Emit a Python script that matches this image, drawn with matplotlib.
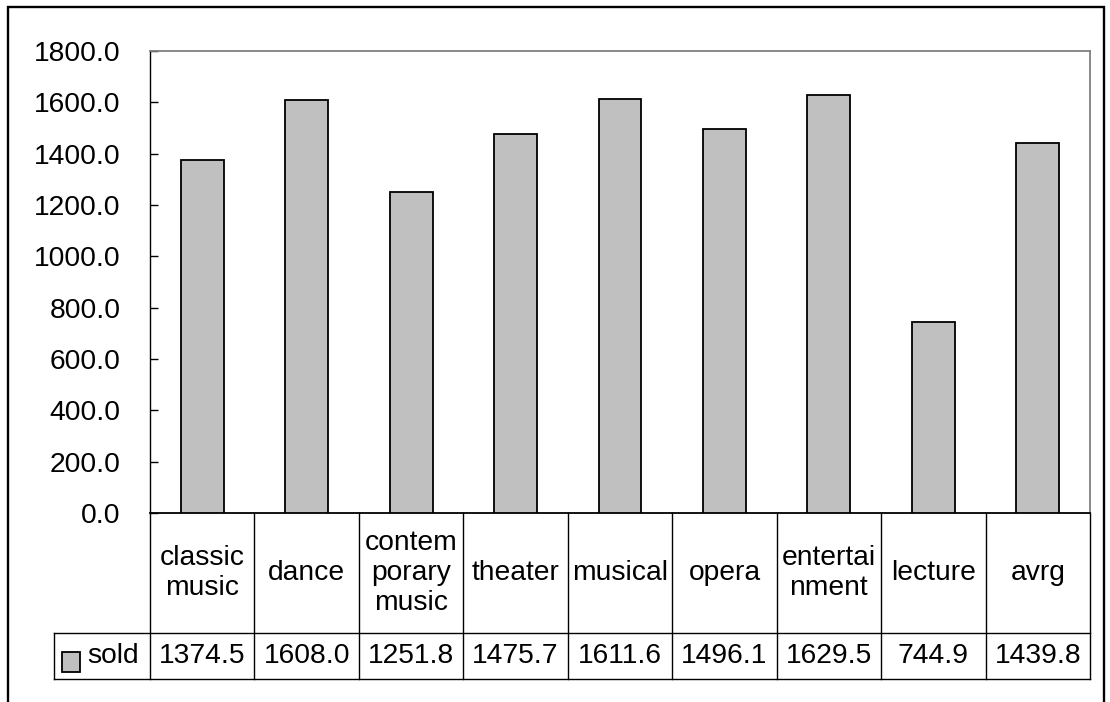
import matplotlib.pyplot as plt
from matplotlib.patches import Rectangle
from matplotlib.lines import Line2D
import matplotlib.transforms as mtransforms

plt.rcParams['font.family'] = ['Liberation Sans', 'DejaVu Sans']

# data
categories = ['classic\nmusic', 'dance', 'contem\nporary\nmusic', 'theater', 'musical',
              'opera', 'entertai\nnment', 'lecture', 'avrg']
sold = [1374.5, 1608.0, 1251.8, 1475.7, 1611.6, 1496.1, 1629.5, 744.9, 1439.8]
series_name = 'sold'
yticks = [0, 200, 400, 600, 800, 1000, 1200, 1400, 1600, 1800]

W, H = 1110, 702
fig = plt.figure(figsize=(W / 100, H / 100), dpi=100)
fs = 20.3

# outer chart frame (bottom edge lies outside the image)
fig.patches.append(Rectangle((8 / W, -0.05), (1104 - 8) / W, 1.05 - 7 / H,
                             transform=fig.transFigure, fill=False,
                             edgecolor='black', linewidth=1.7))

ax = fig.add_axes([150 / W, 1 - 513 / H, (1090 - 150) / W, (513 - 51) / H])
x = list(range(len(categories)))
ax.bar(x, sold, width=0.41, color='#C0C0C0', edgecolor='black', linewidth=1.3, zorder=3)

ax.set_xlim(-0.5, len(categories) - 0.5)
ax.set_ylim(0, 1800)
ax.set_yticks(yticks)
ax.set_yticklabels([f'{v:.1f}' for v in yticks], fontsize=fs)
ax.tick_params(axis='y', direction='in', length=6, width=1, pad=21)
ax.set_xticks([])
for s in ['top', 'right']:
    ax.spines[s].set_color('#808080')
    ax.spines[s].set_linewidth(1.3)
ax.spines['left'].set_linewidth(1)
ax.spines['bottom'].set_linewidth(1.3)

# data table under the axis
tr = mtransforms.blended_transform_factory(ax.transData, ax.transAxes)
ah = 513 - 51
colw = (1090 - 150) / len(categories)
r1 = -(633 - 513) / ah
r2 = -(679 - 513) / ah
leg_left = -0.5 - (150 - 54) / colw
n = len(categories)

def hline(x0, x1, y):
    ax.add_line(Line2D([x0, x1], [y, y], transform=tr, color='black', lw=1, clip_on=False))

def vline(xx, y0, y1):
    ax.add_line(Line2D([xx, xx], [y0, y1], transform=tr, color='black', lw=1, clip_on=False))

hline(leg_left, n - 0.5, r1)
hline(leg_left, n - 0.5, r2)
for i in range(n + 1):
    vline(i - 0.5, 0, r2)
vline(leg_left, r1, r2)

for i, (c, v) in enumerate(zip(categories, sold)):
    ax.text(i, r1 / 2, c, transform=tr, ha='center', va='center', fontsize=fs,
            linespacing=1.2)
    ax.text(i, (r1 + r2) / 2, f'{v:.1f}', transform=tr, ha='center', va='center', fontsize=fs)

# legend key in the table
ax.add_patch(Rectangle((leg_left + 8 / colw, -(672 - 513) / ah), 18 / colw, 20 / ah,
                       transform=tr, facecolor='#C0C0C0', edgecolor='black', lw=1.3,
                       clip_on=False))
ax.text(leg_left + 33 / colw, (r1 + r2) / 2, series_name, transform=tr,
        ha='left', va='center', fontsize=fs)

fig.savefig('out.png', dpi=100)
